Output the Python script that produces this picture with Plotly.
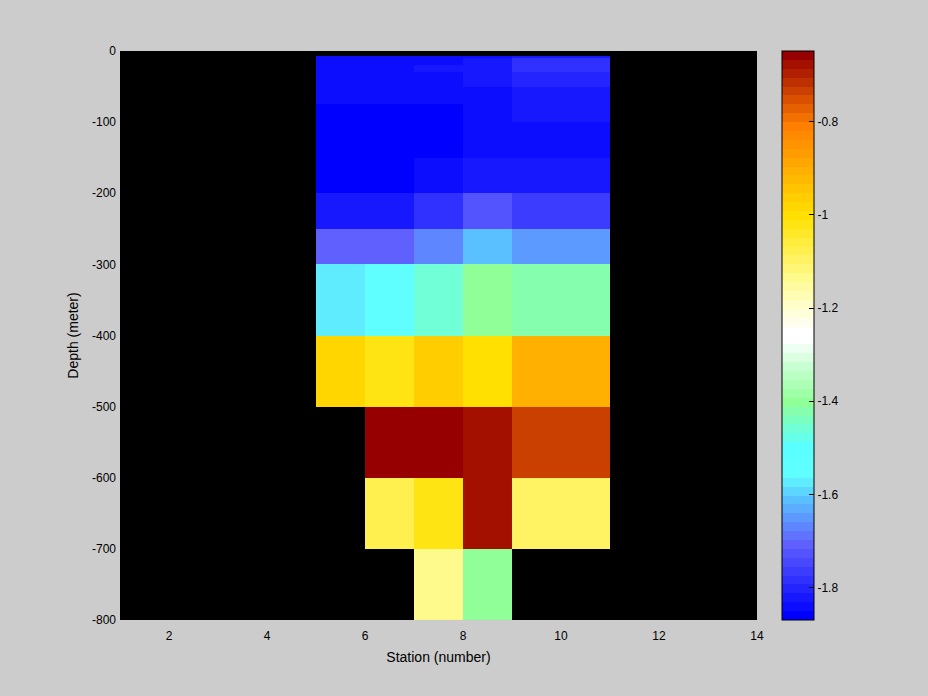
import numpy as np
import plotly.graph_objects as go

# ---- data ----
station_edges = [5, 6, 7, 8, 9, 11]
depth_edges = [-7, -10, -20, -30, -50, -75, -100, -150, -200, -250, -300, -400, -500, -600, -700, -800]
nan = float("nan")
# rows: top (shallow) to bottom (deep); columns: stations 5,6,7,8,9
values = [
    [-1.841, -1.841, -1.841, -1.841, -1.822],
    [-1.841, -1.841, -1.841, -1.822, -1.784],
    [-1.841, -1.841, -1.822, -1.822, -1.784],
    [-1.841, -1.841, -1.841, -1.822, -1.803],
    [-1.841, -1.841, -1.841, -1.841, -1.822],
    [-1.860, -1.860, -1.860, -1.841, -1.822],
    [-1.860, -1.860, -1.860, -1.841, -1.841],
    [-1.860, -1.860, -1.841, -1.822, -1.822],
    [-1.822, -1.822, -1.784, -1.726, -1.765],
    [-1.707, -1.707, -1.669, -1.612, -1.650],
    [-1.574, -1.555, -1.459, -1.402, -1.421],
    [-0.982, -1.020, -0.963, -1.001, -0.906],
    [nan, -0.658, -0.658, -0.677, -0.734],
    [nan, -1.078, -1.020, -0.677, -1.097],
    [nan, nan, -1.135, -1.402, nan],
]
zmin, zmax = -1.8695, -0.6484
x_ticks = [2, 4, 6, 8, 10, 12, 14]
y_ticks = [0, -100, -200, -300, -400, -500, -600, -700, -800]
cb_ticks = [-1.8, -1.6, -1.4, -1.2, -1.0, -0.8]
cb_ticktext = ["-1.8", "-1.6", "-1.4", "-1.2", "-1", "-0.8"]

# ---- colormap (64 discrete levels) ----
anchors = [
    (0, (0, 0, 255)), (8, (96, 96, 255)), (13, (90, 192, 255)), (15, (96, 236, 255)),
    (16, (96, 255, 255)), (19, (90, 255, 255)), (24, (144, 255, 152)), (28, (200, 255, 210)),
    (31, (255, 255, 255)), (32, (255, 255, 255)), (35, (255, 253, 200)), (38, (255, 250, 140)),
    (42, (255, 236, 60)), (45, (255, 224, 0)), (55, (255, 128, 0)), (63, (150, 0, 0)),
]
ks = [a[0] for a in anchors]
cols = []
for i in range(64):
    rgb = [int(round(np.interp(i, ks, [a[1][c] for a in anchors]))) for c in range(3)]
    cols.append("rgb(%d,%d,%d)" % tuple(rgb))
colorscale = []
for i, c in enumerate(cols):
    colorscale.append([i / 64, c])
    colorscale.append([(i + 1) / 64, c])

W, H = 928, 696
ml, mr, mt, mb = 120, 171, 51, 76
pw = W - ml - mr
cbx = (782 - ml) / pw
cbw = 32
font = dict(family="Liberation Sans", size=12, color="black")

fig = go.Figure(go.Heatmap(
    x=station_edges, y=depth_edges, z=values,
    zmin=zmin, zmax=zmax, colorscale=colorscale,
    hoverongaps=False,
    colorbar=dict(
        x=cbx, xanchor="left", y=0.5, yanchor="middle", len=1, lenmode="fraction",
        thickness=cbw, thicknessmode="pixels", xpad=0, ypad=0,
        outlinecolor="black", outlinewidth=1,
        tickvals=cb_ticks, ticktext=cb_ticktext, ticks="inside", ticklen=5,
        tickcolor="black", tickfont=font,
    ),
))

# left-side inward ticks of the colorbar
shapes = []
for v in cb_ticks:
    fy = (v - zmin) / (zmax - zmin)
    shapes.append(dict(type="line", xref="paper", yref="paper",
                       x0=cbx, x1=cbx + 5 / pw, y0=fy, y1=fy,
                       line=dict(color="black", width=1)))

fig.update_layout(
    width=W, height=H,
    margin=dict(l=ml, r=mr, t=mt, b=mb),
    paper_bgcolor="#cccccc", plot_bgcolor="black",
    font=font,
    shapes=shapes,
    xaxis=dict(range=[1, 14], tickvals=x_ticks, ticktext=[str(t) for t in x_ticks],
               showgrid=False, zeroline=False, ticks="", showline=False,
               ticklabelstandoff=7,
               title=dict(text="Station (number)", standoff=10)),
    yaxis=dict(range=[-800, 0], tickvals=y_ticks, ticktext=[str(t) for t in y_ticks],
               showgrid=False, zeroline=False, ticks="", showline=False,
               ticklabelstandoff=3,
               title=dict(text="Depth (meter)", standoff=10)),
)
fig.write_html("out.html", config={"displayModeBar": False},
               post_script="document.body.style.margin='0px';document.body.style.overflow='hidden';")
